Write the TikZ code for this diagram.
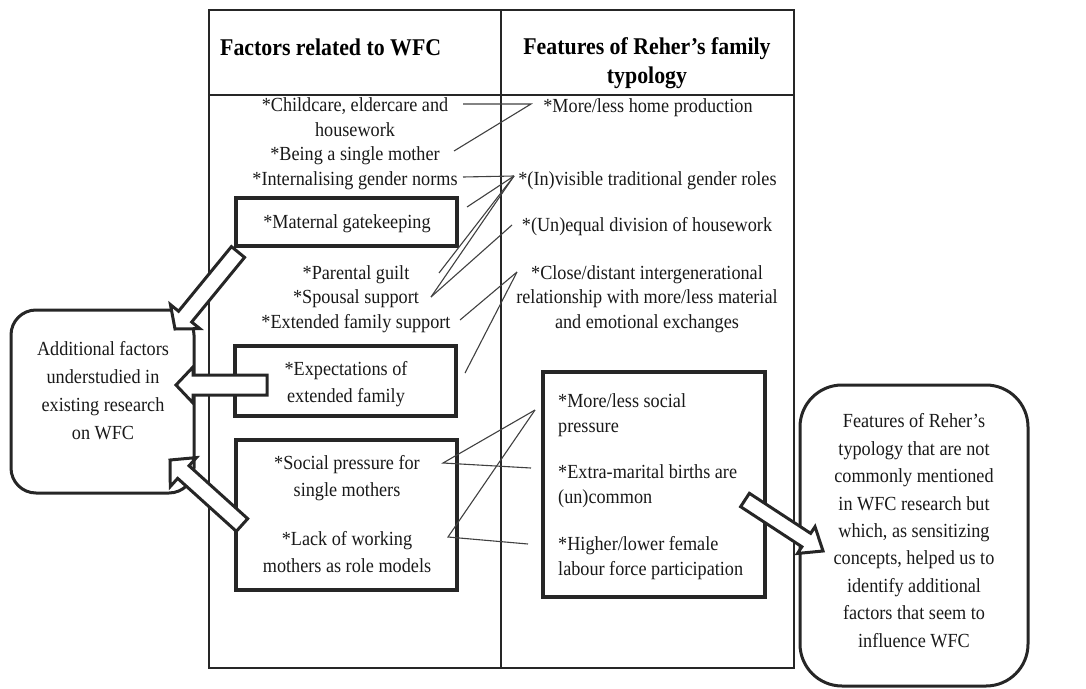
\documentclass[tikz,border=0pt]{standalone}
\usepackage{fontspec}
\setmainfont{Liberation Serif}[FakeStretch=0.91]
\usetikzlibrary{calc}
\tikzset{
  tline/.style={line width=1.4pt, black!85},
  tbox/.style={draw=black!85, line width=3.6pt, inner sep=0pt},
  conn/.style={line width=1.1pt, black!75},
  txt/.style={inner sep=0pt, font=\fontsize{20}{24.4}\selectfont, align=center, text=black!90, anchor=base},
  txtb/.style={txt, font=\fontsize{20}{27}\selectfont},
  hdr/.style={inner sep=0pt, font=\fontsize{24}{28.5}\selectfont\bfseries, align=center, anchor=base},
  rbox/.style={draw=black!85, line width=3pt, inner sep=0pt},
  blockarr/.style={draw=black!85, fill=white, line width=3pt, line join=miter},
}
% #1 name, #2 tail, #3 tip, #4 shaft half width, #5 head half width, #6 head length
\newcommand\blockarrow[6]{%
  \coordinate (#1b) at ($(#3)!#6!(#2)$);
  \draw[blockarr] ($(#2)!#4!90:(#3)$) -- ($(#1b)!#4!90:(#3)$) -- ($(#1b)!#5!90:(#3)$)
    -- (#3) -- ($(#1b)!#5!-90:(#3)$) -- ($(#1b)!#4!-90:(#3)$) -- ($(#2)!#4!-90:(#3)$) -- cycle;
}
\begin{document}
\begin{tikzpicture}[x=1pt,y=-1pt]
\useasboundingbox (0,0) rectangle (1086,688);
% table
\coordinate (tTL) at (209,10);
\coordinate (tBR) at (794,668);
\draw[tline] (tTL) rectangle (tBR);
\draw[tline] (501,10) -- (501,668);
\draw[tline] (209,95) -- (794,95);
% headers (base anchor = baseline of the last line)
\node[hdr, anchor=base west] (h1) at (220,55) {Factors related to WFC};
\node[hdr] (h2) at (647,83) {Features of Reher’s family\\typology};
% left column
\node[txt] (L1) at (355,185) {*Childcare, eldercare and\\housework\\*Being a single mother\\*Internalising gender norms};
\node[tbox, minimum width=221pt, minimum height=48pt] (mgbox) at (346.5,222) {};
\node[txt] (mg) at (347,228) {*Maternal gatekeeping};
\node[txt] (L2) at (356,328) {*Parental guilt\\*Spousal support\\*Extended family support};
\node[tbox, minimum width=221pt, minimum height=70pt] (expbox) at (345.5,381) {};
\node[txtb] (exp) at (346,402) {*Expectations of\\extended family};
\node[tbox, minimum width=221pt, minimum height=150pt] (spbox) at (346.5,515) {};
\node[txtb] (sp) at (347,496) {*Social pressure for\\single mothers};
\node[txtb] (lw) at (347,572) {*Lack of working\\mothers as role models};
% right column
\node[txt] (R1) at (648,112) {*More/less home production};
\node[txt] (R2) at (647.5,185) {*(In)visible traditional gender roles};
\node[txt] (R3) at (647,231) {*(Un)equal division of housework};
\node[txt] (R4) at (647,328) {*Close/distant intergenerational\\relationship with more/less material\\and emotional exchanges};
\node[tbox, line width=4pt, minimum width=222pt, minimum height=225pt] (rbx) at (654,484.5) {};
\node[txt, align=left, anchor=base west] (R5) at (558,432) {*More/less social\\pressure};
\node[txt, align=left, anchor=base west] (R6) at (558,503) {*Extra-marital births are\\(un)common};
\node[txt, align=left, anchor=base west] (R7) at (558,575) {*Higher/lower female\\labour force participation};
% rounded boxes
\node[rbox, rounded corners=25pt, minimum width=183pt, minimum height=183pt] (addl) at (102.5,401.5) {};
\node[txt, font=\fontsize{20}{27.7}\selectfont] (addltxt) at (103,439) {Additional factors\\understudied in\\existing research\\on WFC};
\node[rbox, rounded corners=42pt, minimum width=228pt, minimum height=301pt] (feat) at (914,535.5) {};
\node[txt, font=\fontsize{20}{27.4}\selectfont] (feattxt) at (914,647) {Features of Reher’s\\typology that are not\\commonly mentioned\\in WFC research but\\which, as sensitizing\\concepts, helped us to\\identify additional\\factors that seem to\\influence WFC};
% connector points
\coordinate (cChild) at (463,104);
\coordinate (cHome) at (531,104);
\coordinate (cSingle) at (454,151);
\coordinate (cNorms) at (463,177);
\coordinate (cVis) at (514,176);
\coordinate (cGate) at (467,207);
\coordinate (cGuilt) at (439,273);
\coordinate (cSpouse) at (431,297);
\coordinate (cEqual) at (512,225);
\coordinate (cClose) at (517,272);
\coordinate (cExtSup) at (460,320);
\coordinate (cExpect) at (465,373);
\coordinate (cMoreSoc) at (535,410);
\coordinate (cSocP) at (443,463);
\coordinate (cExtra) at (531,468);
\coordinate (cLack) at (448,537);
\coordinate (cFemale) at (528,544);
% connectors
\draw[conn] (cChild) -- (cHome) -- (cSingle);
\draw[conn] (cNorms) -- (cVis);
\draw[conn] (cVis) -- (cGate);
\draw[conn] (cVis) -- (cGuilt);
\draw[conn] (cVis) -- (cSpouse);
\draw[conn] (cEqual) -- (cSpouse);
\draw[conn] (cClose) -- (cExtSup);
\draw[conn] (cClose) -- (cExpect);
\draw[conn] (cMoreSoc) -- (cSocP) -- (cExtra);
\draw[conn] (cMoreSoc) -- (cLack) -- (cFemale);
% block arrows
\coordinate (a1t) at (238,252); \coordinate (a1h) at (175,329);
\coordinate (a2t) at (267,385); \coordinate (a2h) at (176,385);
\coordinate (a3t) at (242,525); \coordinate (a3h) at (170,460);
\coordinate (a4t) at (745,500); \coordinate (a4h) at (823,551);
\blockarrow{a1}{a1t}{a1h}{8.5pt}{19pt}{16pt}
\blockarrow{a2}{a2t}{a2h}{10pt}{18pt}{17pt}
\blockarrow{a3}{a3t}{a3h}{8.5pt}{19.5pt}{18pt}
\blockarrow{a4}{a4t}{a4h}{8pt}{16pt}{20pt}
\end{tikzpicture}
\end{document}
